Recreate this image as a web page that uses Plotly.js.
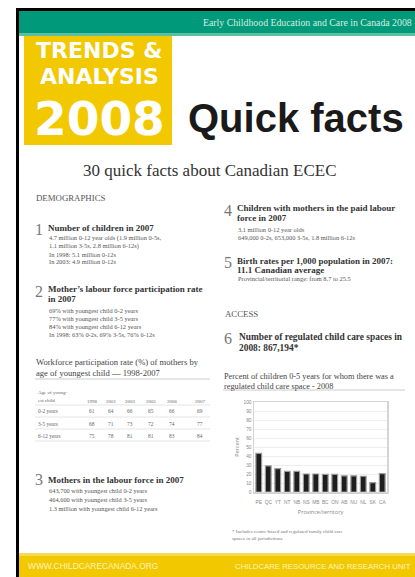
<!DOCTYPE html>
<html><head><meta charset="utf-8">
<script src="https://cdn.plot.ly/plotly-3.0.1.min.js"></script>
<style>html,body{margin:0;padding:0;background:#fff}#c{width:415px;height:577px}</style>
</head><body><div id="c"></div>
<script>
// ---- chart data ----
const jurisdictions = ["PE","QC","YT","NT","NB","NS","MB","BC","ON","AB","NU","NL","SK","CA"];
const pctRegulated = [43, 29, 26, 23, 23, 20, 20, 19.5, 19.5, 18, 18, 17.5, 10.5, 20.5];
const yTicks = [0,10,20,30,40,50,60,70,80,90,100];

// ---- table data ----
const tableYears = ["1998","2001","2003","2005","2006","2007"];
const tableRows = ["0-2 years","3-5 years","6-12 years"];
const rate0to2 = [61, 64, 66, 65, 66, 69];
const rate3to5 = [68, 71, 73, 72, 74, 77];
const rate6to12 = [75, 78, 81, 81, 83, 84];

const W = 415, H = 577;
const ann = [], shp = [];
function px(x){return x/W;} function py(y){return 1-y/H;}
function T(x,y,text,size,o){o=o||{};
  ann.push({xref:'paper',yref:'paper',x:px(x),y:py(y),text:text,showarrow:false,borderpad:0,
    xanchor:o.xa||'left',yanchor:o.ya||'middle',
    font:{family:o.f||'Liberation Serif, serif',size:size,color:o.c||'#555',weight:o.w||400}});
}
function R(x0,y0,x1,y1,fill){shp.push({type:'rect',xref:'paper',yref:'paper',x0:px(x0),x1:px(x1),y0:py(y0),y1:py(y1),fillcolor:fill,line:{width:0},layer:'below'});}
function L(x0,y0,x1,y1,col,w){shp.push({type:'line',xref:'paper',yref:'paper',x0:px(x0),x1:px(x1),y0:py(y0),y1:py(y1),line:{color:col,width:w},layer:'below'});}

const SANS='DejaVu Sans, sans-serif';
// frame
R(16,8,415,11,'#000'); R(16,8,19,577,'#000');
// header band
R(19,11,415,34,'#00997a'); R(19,33,415,36,'#5cbf9f');
T(413,22,'Early Childhood Education and Care in Canada 2008',9.8,{xa:'right',c:'#d8efe0'});
// yellow box
R(24,36,172,145,'#f2c800');
T(99,50.5,'TRENDS &amp;',22,{xa:'center',f:SANS,c:'#fff',w:700});
T(99,77,'ANALYSIS',22,{xa:'center',f:SANS,c:'#fff',w:700});
T(99,118,'2008',47,{xa:'center',f:SANS,c:'#fff',w:700});
T(296,118,'Quick facts',40,{xa:'center',f:'Liberation Sans, Arial, sans-serif',c:'#1a1a1a',w:700});
T(210,171,'30 quick facts about Canadian ECEC',17,{xa:'center',c:'#333'});

// left column
T(35,198,'DEMOGRAPHICS',8.8,{c:'#555'});
T(34,229,'1',16,{c:'#777'});
T(47,228,'Number of children in 2007',9,{c:'#333',w:700});
T(48,238,'4.7 million 0-12 year olds (1.9 million 0-5s,',6.4);
T(48,246,'1.1 million 3-5s, 2.8 million 6-12s)',6.4);
T(48,254,'In 1998: 5.1 million 0-12s',6.4);
T(48,262,'In 2003: 4.9 million 0-12s',6.4);

T(34,292,'2',16,{c:'#777'});
T(47,289,'Mother\u2019s labour force participation rate',9,{c:'#333',w:700});
T(47,299,'in 2007',9,{c:'#333',w:700});
T(48,310,'69% with youngest child 0-2 years',6.4);
T(48,318,'77% with youngest child 3-5 years',6.4);
T(48,326,'84% with youngest child 6-12 years',6.4);
T(48,334,'In 1998: 63% 0-2s, 69% 3-5s, 76% 6-12s',6.4);

T(35,362,'Workforce participation rate (%) of mothers by',8.6,{c:'#444'});
T(35,373,'age of youngest child \u2014 1998-2007',8.6,{c:'#444'});
L(35,379,210,379,'#ccc',1);
T(37,392,'Age of young-',5,{c:'#666'});
T(37,400,'est child',5,{c:'#666'});
const colX = [92,111,130,151,172,200];
tableYears.forEach((yr,i)=>T(colX[i],401,yr,5,{xa:'center',c:'#666'}));
[405,417,429,441].forEach(y=>L(35,y,210,y,'#e6e6e6',1.2));
const rowsData=[rate0to2,rate3to5,rate6to12];
tableRows.forEach((lab,r)=>{const y=411+r*12.5;
  T(37,y,lab,5.4,{c:'#666'});
  rowsData[r].forEach((v,i)=>T(colX[i],y,String(v),5.4,{xa:'center',c:'#666'}));
});

T(34,479,'3',16,{c:'#777'});
T(47,480,'Mothers in the labour force in 2007',9,{c:'#333',w:700});
T(48,490,'643,700 with youngest child 0-2 years',6.4);
T(48,499,'464,600 with youngest child 3-5 years',6.4);
T(48,508,'1.3 million with youngest child 6-12 years',6.4);

// right column
T(223,210,'4',16,{c:'#777'});
T(236,208,'Children with mothers in the paid labour',9,{c:'#333',w:700});
T(236,218,'force in 2007',9,{c:'#333',w:700});
T(237,229,'3.1 million 0-12 year olds',6.4);
T(237,237,'649,000 0-2s, 653,000 3-5s, 1.8 million 6-12s',6.4);

T(223,263,'5',16,{c:'#777'});
T(236,261,'Birth rates per 1,000 population in 2007:',9,{c:'#333',w:700});
T(236,270,'11.1 Canadian average',9,{c:'#333',w:700});
T(237,279,'Provincial/territorial range: from 8.7 to 25.5',6.4);

T(224,314,'ACCESS',8.8,{c:'#555'});
T(223,338,'6',16,{c:'#777'});
T(238,337,'Number of regulated child care spaces in',9.4,{c:'#333',w:700});
T(238,348,'2008: 867,194*',9.4,{c:'#333',w:700});

T(223,376,'Percent of children 0-5 years for whom there was a',8.3,{c:'#444'});
T(223,386,'regulated child care space - 2008',8.3,{c:'#444'});
L(223,390,405,390,'#ccc',1);

T(231,531,'* Includes centre-based and regulated family child care',5,{c:'#777'});
T(231,538,'spaces in all jurisdictions',5,{c:'#777'});

// footer
R(19,553,415,577,'#f2c800'); R(19,553,415,556,'#f6da55');
T(27,566,'WWW.CHILDCARECANADA.ORG',8.4,{c:'#fff5c0',f:'Liberation Sans, Arial, sans-serif'});
T(412,566,'CHILDCARE RESOURCE AND RESEARCH UNIT',7.8,{xa:'right',c:'#fff5c0',f:'Liberation Sans, Arial, sans-serif'});

const data=[{type:'bar',x:jurisdictions,y:pctRegulated,
  marker:{color:'#1e1e1e',line:{color:'#9a9a9a',width:1.2}},hoverinfo:'skip'}];

const layout={width:W,height:H,margin:{l:0,r:0,t:0,b:0},paper_bgcolor:'#fff',plot_bgcolor:'#fff',
  showlegend:false,bargap:0.4,
  xaxis:{domain:[254/W,387/W],type:'category',tickfont:{size:4.8,color:'#888',family:'Liberation Sans, Arial'},
    ticks:'',ticklabelstandoff:5,showline:true,mirror:true,linecolor:'#d4d4d4',linewidth:1.5,
    title:{text:'Province/territory',font:{size:5.5,color:'#888'},standoff:6}},
  yaxis:{domain:[1-492/H,1-402/H],range:[0,100],tickvals:yTicks,
    tickfont:{size:4.8,color:'#888',family:'Liberation Sans, Arial'},
    gridcolor:'#eeeeee',showline:true,mirror:true,linecolor:'#d4d4d4',linewidth:1.5,zeroline:false,
    title:{text:'Percent',font:{size:5.5,color:'#888'},standoff:3}},
  annotations:ann,shapes:shp};
Plotly.newPlot('c',data,layout,{staticPlot:true,displayModeBar:false});
</script></body></html>
